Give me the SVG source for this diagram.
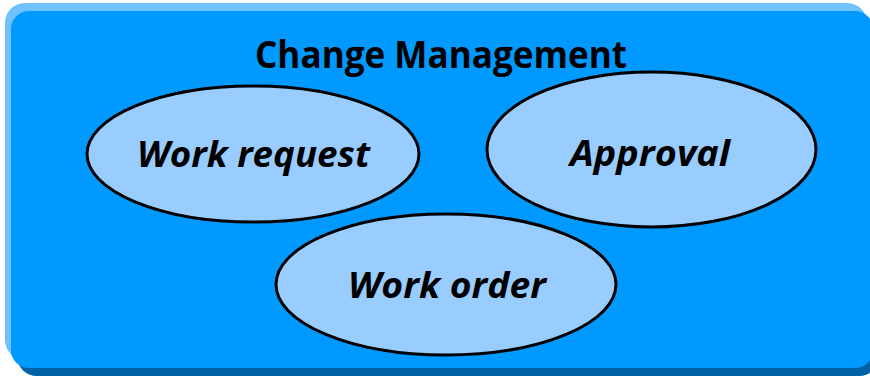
<svg xmlns="http://www.w3.org/2000/svg" width="870" height="376" viewBox="0 0 870 376">
<style>
.node ellipse{fill:#99CCFF;stroke:#000;stroke-width:3}
.lbl{font-family:"Open Sans","Liberation Sans",sans-serif;font-weight:bold;font-style:italic;fill:#000}
.title{font-family:"Open Sans","Liberation Sans",sans-serif;font-weight:bold;fill:#000}
</style>
<g id="frame">
<rect x="17" y="19" width="862" height="357" rx="20" fill="#0062A3"/>
<rect x="5" y="3" width="862" height="357" rx="20" fill="#70C2FF"/>
<rect x="11" y="11" width="862" height="357" rx="18" fill="#0099FF"/>
<text class="title" x="441" y="68" font-size="38" text-anchor="middle" textLength="372" lengthAdjust="spacingAndGlyphs">Change Management</text>
</g>
<g id="connectors"></g>
<g id="work-request" class="node">
<ellipse cx="253" cy="154" rx="166" ry="68"/>
<text class="lbl" x="253.5" y="167" font-size="35" text-anchor="middle" textLength="233" lengthAdjust="spacingAndGlyphs">Work request</text>
</g>
<g id="approval" class="node">
<ellipse cx="651.5" cy="149.5" rx="164.5" ry="77.5"/>
<text class="lbl" x="650" y="166" font-size="35" text-anchor="middle" textLength="160" lengthAdjust="spacingAndGlyphs">Approval</text>
</g>
<g id="work-order" class="node">
<ellipse cx="446" cy="284.5" rx="170" ry="70.5"/>
<text class="lbl" x="447" y="298" font-size="35" text-anchor="middle" textLength="198" lengthAdjust="spacingAndGlyphs">Work order</text>
</g>
</svg>
